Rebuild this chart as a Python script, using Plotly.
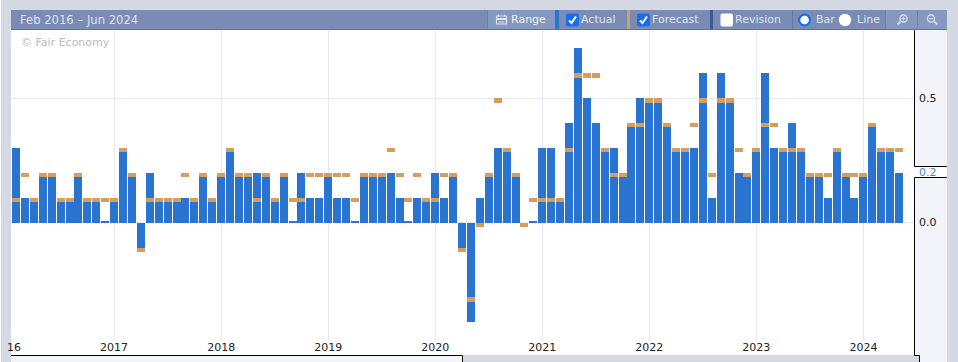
import pandas as pd
import plotly.graph_objects as go

W, H = 958, 362

months = [p.strftime("%b %Y") for p in pd.period_range("2016-02", "2024-05", freq="M")]
actual = [
    0.3, 0.1, 0.1, 0.2, 0.2, 0.1, 0.1, 0.2, 0.1, 0.1, 0.006,
    0.1, 0.3, 0.2, -0.1, 0.2, 0.1, 0.1, 0.1, 0.1, 0.1, 0.2, 0.1,
    0.2, 0.3, 0.2, 0.2, 0.2, 0.2, 0.1, 0.2, 0.006, 0.2, 0.1, 0.1,
    0.2, 0.1, 0.1, 0.006, 0.2, 0.2, 0.2, 0.2, 0.1, 0.006, 0.1, 0.1,
    0.2, 0.1, 0.2, -0.1, -0.4, 0.1, 0.2, 0.3, 0.3, 0.2, 0.0, 0.006,
    0.3, 0.3, 0.1, 0.4, 0.7, 0.5, 0.4, 0.3, 0.3, 0.2, 0.4, 0.5,
    0.5, 0.5, 0.4, 0.3, 0.3, 0.3, 0.6, 0.1, 0.6, 0.5, 0.2, 0.2,
    0.3, 0.6, 0.3, 0.3, 0.4, 0.3, 0.2, 0.2, 0.1, 0.3, 0.2, 0.1,
    0.2, 0.4, 0.3, 0.3, 0.2,
]
forecast = [
    0.1, 0.2, 0.1, 0.2, 0.2, 0.1, 0.1, 0.2, 0.1, 0.1, 0.1,
    0.1, 0.3, 0.2, -0.1, 0.1, 0.1, 0.1, 0.1, 0.2, 0.1, 0.2, 0.1,
    0.2, 0.3, 0.2, 0.2, 0.1, 0.2, 0.1, 0.2, 0.1, 0.1, 0.2, 0.2,
    0.2, 0.2, 0.2, 0.1, 0.2, 0.2, 0.2, 0.3, 0.2, 0.1, 0.2, 0.1,
    0.1, 0.2, 0.2, -0.1, -0.3, 0.0, 0.2, 0.5, 0.3, 0.2, 0.0, 0.1,
    0.1, 0.1, 0.1, 0.3, 0.6, 0.6, 0.6, 0.3, 0.2, 0.2, 0.4, 0.4,
    0.5, 0.5, 0.4, 0.3, 0.3, 0.4, 0.5, 0.2, 0.5, 0.5, 0.3, 0.2,
    0.3, 0.4, 0.4, 0.3, 0.3, 0.3, 0.2, 0.2, 0.2, 0.3, 0.2, 0.2,
    0.2, 0.4, 0.3, 0.3, 0.3,
]
year_ticks = ["Jan 2017", "Jan 2018", "Jan 2019", "Jan 2020", "Jan 2021", "Jan 2022", "Jan 2023", "Jan 2024"]
year_labels = ["2017", "2018", "2019", "2020", "2021", "2022", "2023", "2024"]
y_ticks = [0.0, 0.5]
y_labels = ["0.0", "0.5"]

BLUE = "#2874d0"
ORANGE = "#d49e60"
PAGE = "#d5d9e3"
PANEL = "#f4f5fa"
HEAD = "#7a8cb6"
HEAD2 = "#8598c0"
DIV = "#5d74a6"
GRID = "#e8e8f2"
TXT = "#dde3ee"
FONT = "DejaVu Sans"

PX_PER_UNIT = 249.0
Y0 = 222.6
TOP, BOT, LEFT, RIGHT = 30, 341, 11, 914
PITCH = 8.92
FIRST = 16.0


def px(x):
    return x / W


def py(y):
    return 1 - y / H


def rect(x0, y0, x1, y1, fill, layer="below"):
    return dict(type="rect", xref="paper", yref="paper", x0=px(x0), x1=px(x1), y0=py(y0), y1=py(y1),
                fillcolor=fill, line_width=0, layer=layer)


def line(x0, y0, x1, y1, color="#000000", w=1, layer="above"):
    return dict(type="line", xref="paper", yref="paper", x0=px(x0), x1=px(x1), y0=py(y0), y1=py(y1),
                line=dict(color=color, width=w), layer=layer)


def circle(cx, cy, r, fill, lc=None, lw=0, layer="above"):
    return dict(type="circle", xref="paper", yref="paper", x0=px(cx - r), x1=px(cx + r), y0=py(cy - r), y1=py(cy + r),
                fillcolor=fill, line=dict(color=lc or fill, width=lw), layer=layer)


def path(points, color, w=1.5, fill=None, close=False):
    d = "M " + " L ".join(f"{px(x):.5f} {py(y):.5f}" for x, y in points) + (" Z" if close else "")
    return dict(type="path", xref="paper", yref="paper", path=d, line=dict(color=color, width=w),
                fillcolor=fill or "rgba(0,0,0,0)", layer="above")


def rounded(x0, y0, x1, y1, r, fill):
    def f(x, y):
        return f"{px(x):.5f} {py(y):.5f}"
    d = (f"M {f(x0 + r, y0)} L {f(x1 - r, y0)} Q {f(x1, y0)} {f(x1, y0 + r)} L {f(x1, y1 - r)} "
         f"Q {f(x1, y1)} {f(x1 - r, y1)} L {f(x0 + r, y1)} Q {f(x0, y1)} {f(x0, y1 - r)} "
         f"L {f(x0, y0 + r)} Q {f(x0, y0)} {f(x0 + r, y0)} Z")
    return dict(type="path", xref="paper", yref="paper", path=d, fillcolor=fill, line_width=0, layer="above")


shapes = [
    rect(0, 0, 1, H, "#ffffff"),
    rect(LEFT, BOT, RIGHT, 355, "#ffffff"),
    rect(RIGHT, TOP, 947, 355, PANEL),
    rect(RIGHT, 166, 947, 177, "#ffffff"),
    rect(LEFT, 355, 462, H, PANEL),
    rect(919, 355, 947, H, PANEL),
    line(914.5, TOP, 914.5, 166.5),
    line(914.5, 177.5, 914.5, 355.5),
    line(914.5, 166.5, 947, 166.5),
    line(914.5, 177.5, 947, 177.5),
    line(LEFT, 355.5, 462.5, 355.5),
    line(462.5, 355.5, 462.5, H),
    line(914.5, 355.5, 919.5, 355.5),
    line(919.5, 355.5, 919.5, H),
    # header
    rect(11, 10, 947, 30, HEAD, "above"),
    rect(487, 10, 555, 29, HEAD2, "above"),
    rect(885, 10, 947, 29, HEAD2, "above"),
    rect(11, 29, 947, 30, DIV, "above"),
    rect(555, 10, 559, 29, BLUE, "above"),
    rect(627, 10, 630, 29, ORANGE, "above"),
    rect(710, 10, 713, 29, "#3b5a98", "above"),
    rect(487, 10, 487.7, 29, DIV, "above"),
    rect(792, 10, 792.7, 29, DIV, "above"),
    rect(885, 10, 885.7, 29, DIV, "above"),
    rect(917, 10, 917.7, 29, DIV, "above"),
    # check boxes
    rounded(566, 13.5, 579, 26.5, 2, "#1a6fe8"),
    path([(569, 20.5), (571.5, 23), (576, 16.5)], "#ffffff", 2),
    rounded(637, 13.5, 650, 26.5, 2, "#1a6fe8"),
    path([(640, 20.5), (642.5, 23), (647, 16.5)], "#ffffff", 2),
    rounded(720.5, 13.5, 733, 26.5, 2, "#ffffff"),
    # radios
    circle(804.6, 20, 5.4, "#ffffff", "#1a6fe8", 2.2),
    circle(845, 20, 6.2, "#ffffff"),
    # calendar icon
    path([(496.5, 16), (506.5, 16), (506.5, 24), (496.5, 24)], "#dde3ee", 1.2, close=True),
    rect(496.5, 18, 506.5, 20, "#dde3ee", "above"),
    line(498.5, 14.5, 498.5, 16.5, "#dde3ee", 1.2),
    line(504.5, 14.5, 504.5, 16.5, "#dde3ee", 1.2),
    rect(498.5, 21.5, 504.5, 22.5, "#dde3ee", "above"),
    # zoom in icon
    circle(903.5, 18.5, 3.6, "rgba(0,0,0,0)", "#cdd6e8", 1.6),
    line(900.5, 21.5, 897.5, 24.5, "#cdd6e8", 2.2),
    line(901.5, 18.5, 905.5, 18.5, "#cdd6e8", 1.2),
    line(903.5, 16.5, 903.5, 20.5, "#cdd6e8", 1.2),
    # zoom out icon
    circle(931, 18.5, 3.6, "rgba(0,0,0,0)", "#cdd6e8", 1.6),
    line(934, 21.5, 937.5, 24.5, "#cdd6e8", 2.2),
    line(929, 18.5, 933, 18.5, "#cdd6e8", 1.2),
]

PAD = 2


def label(x, y, text, color, size=11, xanchor="left"):
    offset = -PAD if xanchor == "left" else PAD
    return dict(xref="paper", yref="paper", x=px(x + offset), y=py(y), text=text, showarrow=False, xanchor=xanchor,
                yanchor="middle", font=dict(family=FONT, size=size, color=color))


annotations = [
    label(20, 20, "Feb 2016 – Jun 2024", TXT, size=11.6),
    label(511, 20, "Range", "#eef1f7"),
    label(581, 20, "Actual", TXT),
    label(652, 20, "Forecast", TXT),
    label(735, 20, "Revision", TXT),
    label(816, 20, "Bar", TXT),
    label(857, 20, "Line", TXT),
    label(21, 43, "© Fair Economy", "#bbbbbb"),
    label(21, 347, "16", "#222222", xanchor="right"),
    dict(xref="paper", yref="y", x=px(919 - PAD), y=actual[-1], text=f"{actual[-1]:.1f}", showarrow=False,
         xanchor="left", yanchor="middle", font=dict(family=FONT, size=11, color="#3f86da")),
]

marker_h = 4.4 / PX_PER_UNIT

fig = go.Figure()
fig.add_bar(x=months, y=actual, width=0.9, marker=dict(color=BLUE, line_width=0), name="Actual")
fig.add_bar(x=months, y=[-marker_h] * len(forecast), base=forecast, width=0.9,
            marker=dict(color=ORANGE, line_width=0), name="Forecast")

fig.update_layout(
    width=W, height=H, autosize=False,
    margin=dict(l=0, r=0, t=0, b=0, pad=0),
    paper_bgcolor=PAGE, plot_bgcolor="#ffffff",
    barmode="overlay", bargap=0, showlegend=False, hovermode=False,
    font=dict(family=FONT, size=11, color="#222222"),
    shapes=shapes, annotations=annotations,
    xaxis=dict(
        type="category", categoryorder="array", categoryarray=months,
        domain=[px(LEFT), px(RIGHT)],
        range=[(LEFT - FIRST) / PITCH, (RIGHT - FIRST) / PITCH],
        tickmode="array", tickvals=year_ticks, ticktext=year_labels,
        showgrid=True, gridcolor=GRID, gridwidth=1, showline=False, zeroline=False,
        ticks="", tickfont=dict(family=FONT, size=11, color="#222222"), ticklabelstandoff=-2,
    ),
    yaxis=dict(
        domain=[py(BOT), py(TOP)],
        range=[-(BOT - Y0) / PX_PER_UNIT, (Y0 - TOP) / PX_PER_UNIT],
        side="right", tickmode="array", tickvals=y_ticks, ticktext=y_labels,
        showgrid=True, gridcolor=GRID, gridwidth=1, showline=False, zeroline=False,
        ticks="", tickfont=dict(family=FONT, size=11, color="#222222"), ticklabelstandoff=4,
    ),
)

fig.write_html(
    "out.html",
    config=dict(displayModeBar=False, staticPlot=True),
    post_script="document.body.style.margin='0';document.body.style.overflow='hidden';",
)
